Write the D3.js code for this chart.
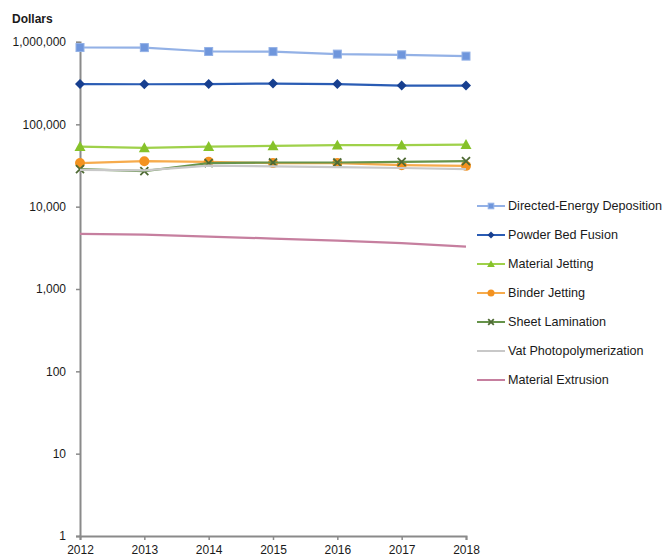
<!DOCTYPE html>
<html>
<head>
<meta charset="utf-8">
<script src="https://cdn.jsdelivr.net/npm/d3@7"></script>
<style>
  html, body { margin: 0; padding: 0; background: #fff; }
  svg { display: block; }
  text { font-family: "Liberation Sans", Arial, sans-serif; fill: #1a1a1a; }
</style>
</head>
<body>
<svg id="chart" width="669" height="560"></svg>
<script>
// Years on the x axis
const years = [2012, 2013, 2014, 2015, 2016, 2017, 2018];

// Average system price by process (dollars)
const directedEnergy   = [857000, 855000, 767000, 765000, 713000, 699000, 674000];
const powderBed        = [308000, 307000, 308000, 313000, 308000, 296000, 296000];
const materialJetting  = [53700, 51800, 53700, 54800, 55800, 55800, 56800];
const binderJetting    = [33800, 35700, 35000, 33800, 33800, 31900, 31300];
const sheetLamination  = [28600, 27000, 33800, 34400, 34400, 35000, 35700];
const vatPhoto         = [28000, 27600, 31500, 30900, 30300, 29500, 28600];
const materialExtrusion = [4670, 4580, 4330, 4100, 3870, 3600, 3270];

const seriesNames = [
  "Directed-Energy Deposition", "Powder Bed Fusion", "Material Jetting",
  "Binder Jetting", "Sheet Lamination", "Vat Photopolymerization", "Material Extrusion"
];
const yTickValues = [1, 10, 100, 1000, 10000, 100000, 1000000];

const series = [
  { name: seriesNames[0], values: directedEnergy,  line: "#93b1e6", fill: "#6f96dc", marker: "square" },
  { name: seriesNames[1], values: powderBed,       line: "#2a5cb4", fill: "#173f8f", marker: "diamond" },
  { name: seriesNames[2], values: materialJetting, line: "#9fd14a", fill: "#86c22a", marker: "triangle" },
  { name: seriesNames[3], values: binderJetting,   line: "#f6ab4c", fill: "#f39220", marker: "circle" },
  { name: seriesNames[4], values: sheetLamination, line: "#66934a", fill: "#4f6a34", marker: "x" },
  { name: seriesNames[5], values: vatPhoto,        line: "#c8c8c8", fill: "#c8c8c8", marker: null },
  { name: seriesNames[6], values: materialExtrusion, line: "#c67f9f", fill: "#c67f9f", marker: null }
];

const svg = d3.select("#chart");

const x = d3.scaleLinear().domain([2012, 2018]).range([80, 466]);
const y = d3.scaleLog().domain([1, 1000000]).range([536, 42]);

// Axes
const yAxis = d3.axisLeft(y)
  .tickValues(yTickValues)
  .tickFormat(d3.format(","))
  .tickSize(4)
  .tickPadding(10);
const xAxis = d3.axisBottom(x)
  .tickValues(years)
  .tickFormat(d3.format("d"))
  .tickSize(4)
  .tickPadding(3);

const gy = svg.append("g").attr("transform", "translate(80,0)").call(yAxis);
const gx = svg.append("g").attr("transform", "translate(0,536)").call(xAxis);
[gy, gx].forEach(g => {
  g.select(".domain").attr("stroke", "#8a8a8a").attr("stroke-width", 2);
  g.selectAll(".tick line").attr("stroke", "#8a8a8a").attr("stroke-width", 1.5);
  g.selectAll(".tick text")
    .attr("font-size", 12)
    .style("font-family", "'Liberation Sans', Arial, sans-serif")
    .attr("fill", "#1a1a1a");
});
gx.selectAll(".tick text").attr("dy", "0.9em");

// Axis title
svg.append("text")
  .attr("x", 12).attr("y", 23)
  .attr("font-size", 12).attr("font-weight", "bold")
  .text("Dollars");

// Marker drawing
function drawMarker(g, type, cx, cy, s, scale) {
  const k = scale || 1;
  if (type === "square") {
    const h = 4 * k;
    g.append("rect").attr("x", cx - h).attr("y", cy - h).attr("width", 2 * h).attr("height", 2 * h)
      .attr("fill", s.fill).attr("stroke", s.line).attr("stroke-width", 1);
  } else if (type === "diamond") {
    const h = 5 * k;
    g.append("path").attr("d", `M${cx},${cy - h}L${cx + h},${cy}L${cx},${cy + h}L${cx - h},${cy}Z`)
      .attr("fill", s.fill);
  } else if (type === "triangle") {
    const h = 5.5 * k;
    g.append("path").attr("d", `M${cx},${cy - h}L${cx + h},${cy + h * 0.8}L${cx - h},${cy + h * 0.8}Z`)
      .attr("fill", s.fill);
  } else if (type === "circle") {
    g.append("circle").attr("cx", cx).attr("cy", cy).attr("r", 5 * k).attr("fill", s.fill);
  } else if (type === "x") {
    const h = 4 * k;
    g.append("path").attr("d", `M${cx - h},${cy - h}L${cx + h},${cy + h}M${cx - h},${cy + h}L${cx + h},${cy - h}`)
      .attr("stroke", s.fill).attr("stroke-width", 1.8).attr("fill", "none");
  }
}

const line = d3.line().x(d => x(d.year)).y(d => y(d.value));
const plot = svg.append("g");

series.forEach(s => {
  const pts = years.map((yr, i) => ({ year: yr, value: s.values[i] }));
  const g = plot.append("g");
  g.append("path").datum(pts).attr("d", line)
    .attr("fill", "none").attr("stroke", s.line).attr("stroke-width", 2.2);
  if (s.marker) pts.forEach(p => drawMarker(g, s.marker, x(p.year), y(p.value), s, 1));
});

// Legend
const legend = svg.append("g");
series.forEach((s, i) => {
  const ly = 206 + i * 29;
  const g = legend.append("g");
  g.append("line").attr("x1", 477).attr("x2", 505).attr("y1", ly).attr("y2", ly)
    .attr("stroke", s.line).attr("stroke-width", 2);
  if (s.marker) drawMarker(g, s.marker, 491, ly, s, 0.7);
  g.append("text").attr("x", 508).attr("y", ly).attr("dy", "0.35em")
    .attr("font-size", 12.6).text(s.name);
});
</script>
</body>
</html>
